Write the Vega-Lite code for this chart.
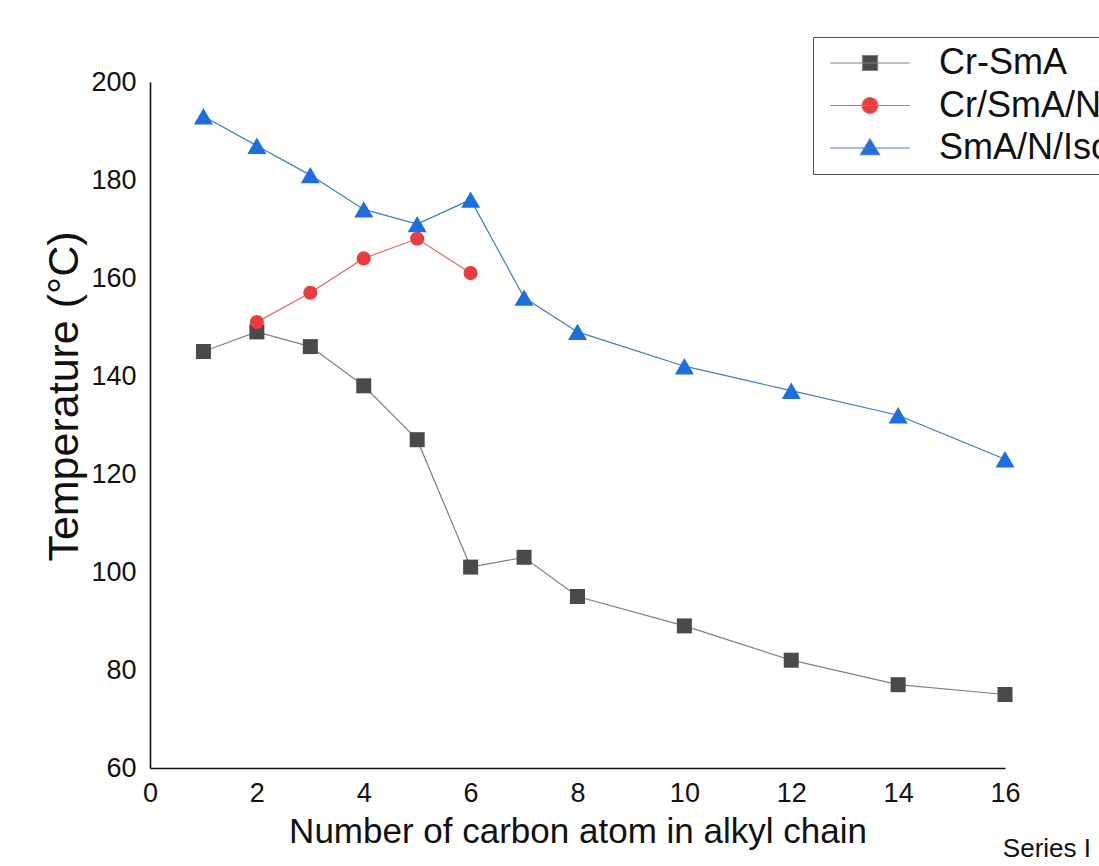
{
  "$schema": "https://vega.github.io/schema/vega-lite/v6.json",
  "width": 855,
  "height": 686,
  "autosize": {"type": "none"},
  "padding": {"left": 150, "top": 82, "right": 94, "bottom": 98},
  "background": "white",
  "config": {
    "font": "Liberation Sans",
    "view": {"stroke": null},
    "axis": {"grid": false, "ticks": false, "domainColor": "#111", "domainWidth": 1.6, "labelColor": "#111", "titleColor": "#111", "labelFont": "Liberation Sans", "titleFont": "Liberation Sans", "titleFontWeight": "normal"},
    "legend": {"labelLimit": 400}
  },
  "title": {"text": "Series I", "orient": "bottom", "anchor": "end", "frame": "group", "fontSize": 26, "fontWeight": "normal", "color": "#111", "dx": 86, "offset": -13},
  "data": {"values": [
    {"series": "Cr-SmA", "n": 1, "T": 145},
    {"series": "Cr-SmA", "n": 2, "T": 149},
    {"series": "Cr-SmA", "n": 3, "T": 146},
    {"series": "Cr-SmA", "n": 4, "T": 138},
    {"series": "Cr-SmA", "n": 5, "T": 127},
    {"series": "Cr-SmA", "n": 6, "T": 101},
    {"series": "Cr-SmA", "n": 7, "T": 103},
    {"series": "Cr-SmA", "n": 8, "T": 95},
    {"series": "Cr-SmA", "n": 10, "T": 89},
    {"series": "Cr-SmA", "n": 12, "T": 82},
    {"series": "Cr-SmA", "n": 14, "T": 77},
    {"series": "Cr-SmA", "n": 16, "T": 75},
    {"series": "Cr/SmA/N", "n": 2, "T": 151},
    {"series": "Cr/SmA/N", "n": 3, "T": 157},
    {"series": "Cr/SmA/N", "n": 4, "T": 164},
    {"series": "Cr/SmA/N", "n": 5, "T": 168},
    {"series": "Cr/SmA/N", "n": 6, "T": 161},
    {"series": "SmA/N/Iso", "n": 1, "T": 193},
    {"series": "SmA/N/Iso", "n": 2, "T": 187},
    {"series": "SmA/N/Iso", "n": 3, "T": 181},
    {"series": "SmA/N/Iso", "n": 4, "T": 174},
    {"series": "SmA/N/Iso", "n": 5, "T": 171},
    {"series": "SmA/N/Iso", "n": 6, "T": 176},
    {"series": "SmA/N/Iso", "n": 7, "T": 156},
    {"series": "SmA/N/Iso", "n": 8, "T": 149},
    {"series": "SmA/N/Iso", "n": 10, "T": 142},
    {"series": "SmA/N/Iso", "n": 12, "T": 137},
    {"series": "SmA/N/Iso", "n": 14, "T": 132},
    {"series": "SmA/N/Iso", "n": 16, "T": 123}
  ]},
  "encoding": {
    "x": {"field": "n", "type": "quantitative",
      "scale": {"domain": [0, 16], "nice": false, "zero": false},
      "axis": {"values": [0, 2, 4, 6, 8, 10, 12, 14, 16], "labelFlush": false, "labelFontSize": 27, "labelPadding": 12, "title": "Number of carbon atom in alkyl chain", "titleFontSize": 35, "titlePadding": 8}},
    "y": {"field": "T", "type": "quantitative",
      "scale": {"domain": [60, 200], "nice": false, "zero": false},
      "axis": {"values": [60, 80, 100, 120, 140, 160, 180, 200], "labelFontSize": 27, "labelPadding": 14, "title": "Temperature (°C)", "titleFontSize": 43, "titlePadding": 4, "titleY": 314}}
  },
  "layer": [
    {
      "transform": [{"filter": "datum.series === 'Cr-SmA'"}],
      "mark": {"type": "line", "strokeWidth": 1.2, "color": "#808080"},
      "encoding": {}
    },
    {
      "transform": [{"filter": "datum.series === 'Cr/SmA/N'"}],
      "mark": {"type": "line", "strokeWidth": 1.2, "color": "#e06a6a"},
      "encoding": {}
    },
    {
      "transform": [{"filter": "datum.series === 'SmA/N/Iso'"}],
      "mark": {"type": "line", "strokeWidth": 1.2, "color": "#3f7bc8"},
      "encoding": {}
    },
    {
      "transform": [{"filter": "datum.series === 'Cr-SmA'"}],
      "mark": {"type": "point", "shape": "square", "filled": true, "size": 225, "opacity": 1, "color": "#4a4a4a"},
      "encoding": {}
    },
    {
      "transform": [{"filter": "datum.series === 'Cr/SmA/N'"}],
      "mark": {"type": "point", "shape": "circle", "filled": true, "size": 200, "opacity": 1, "color": "#ea3b3f"},
      "encoding": {}
    },
    {
      "transform": [{"filter": "datum.series === 'SmA/N/Iso'"}],
      "mark": {"type": "point", "shape": "triangle-up", "filled": true, "size": 360, "opacity": 1, "color": "#1c6fdc"},
      "encoding": {}
    },
    {
      "transform": [{"filter": "false"}],
      "mark": {"type": "point", "filled": true, "opacity": 1, "strokeWidth": 1.2},
      "encoding": {
        "fill": {"field": "series", "type": "nominal",
          "scale": {"domain": ["Cr-SmA", "Cr/SmA/N", "SmA/N/Iso"], "range": ["#4a4a4a", "#ea3b3f", "#1c6fdc"]},
          "legend": {"title": null, "orient": "none", "legendX": 663, "legendY": -45, "strokeColor": "#555", "padding": 8, "labelFontSize": 36, "labelFont": "Liberation Sans", "labelColor": "#111", "labelLimit": 400, "symbolSize": 225, "symbolOffset": 31, "symbolStrokeWidth": 1.2, "labelOffset": 51, "rowPadding": 6.5}},
        "stroke": {"field": "series", "type": "nominal",
          "scale": {"domain": ["Cr-SmA", "Cr/SmA/N", "SmA/N/Iso"], "range": ["#808080", "#e06a6a", "#3f7bc8"]},
          "legend": {"title": null, "orient": "none", "legendX": 663, "legendY": -45, "strokeColor": "#555", "padding": 8, "labelFontSize": 36, "labelFont": "Liberation Sans", "labelColor": "#111", "labelLimit": 400, "symbolSize": 225, "symbolOffset": 31, "symbolStrokeWidth": 1.2, "labelOffset": 51, "rowPadding": 6.5}},
        "shape": {"field": "series", "type": "nominal",
          "scale": {"domain": ["Cr-SmA", "Cr/SmA/N", "SmA/N/Iso"], "range": ["M-5.3,0H5.3M-1,-1H1V1H-1Z", "M-5.3,0H5.3M1.07,0A1.07,1.07 0 1,1 -1.07,0A1.07,1.07 0 1,1 1.07,0Z", "M-5.3,0H5.3M0,-1.2L1.27,0.9H-1.27Z"]},
          "legend": {"title": null, "orient": "none", "legendX": 663, "legendY": -45, "strokeColor": "#555", "padding": 8, "labelFontSize": 36, "labelFont": "Liberation Sans", "labelColor": "#111", "labelLimit": 400, "symbolSize": 225, "symbolOffset": 31, "symbolStrokeWidth": 1.2, "labelOffset": 51, "rowPadding": 6.5}}
      }
    }
  ]
}
